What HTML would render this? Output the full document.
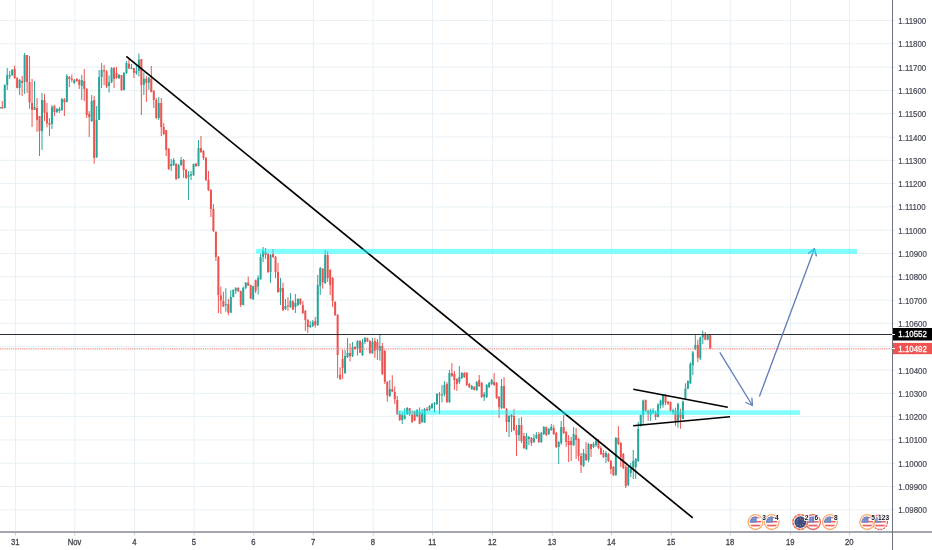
<!DOCTYPE html>
<html><head><meta charset="utf-8"><title>EURUSD chart</title>
<style>
html,body{margin:0;padding:0;background:#fff;}
body{width:932px;height:550px;overflow:hidden;}
svg{display:block;}
.ev{font-family:"Liberation Sans",sans-serif;font-size:6.6px;font-weight:bold;fill:#131722;stroke:#fff;stroke-width:1.6px;paint-order:stroke;}
</style></head>
<body>
<svg width="932" height="550" viewBox="0 0 932 550">
<rect width="932" height="550" fill="#fff"/>
<g stroke="#e8f0f5" stroke-width="1">
<line x1="0" y1="20.5" x2="892" y2="20.5"/>
<line x1="0" y1="43.8" x2="892" y2="43.8"/>
<line x1="0" y1="67.1" x2="892" y2="67.1"/>
<line x1="0" y1="90.4" x2="892" y2="90.4"/>
<line x1="0" y1="113.7" x2="892" y2="113.7"/>
<line x1="0" y1="137.0" x2="892" y2="137.0"/>
<line x1="0" y1="160.3" x2="892" y2="160.3"/>
<line x1="0" y1="183.6" x2="892" y2="183.6"/>
<line x1="0" y1="206.9" x2="892" y2="206.9"/>
<line x1="0" y1="230.2" x2="892" y2="230.2"/>
<line x1="0" y1="253.5" x2="892" y2="253.5"/>
<line x1="0" y1="276.8" x2="892" y2="276.8"/>
<line x1="0" y1="300.1" x2="892" y2="300.1"/>
<line x1="0" y1="323.4" x2="892" y2="323.4"/>
<line x1="0" y1="346.7" x2="892" y2="346.7"/>
<line x1="0" y1="370.0" x2="892" y2="370.0"/>
<line x1="0" y1="393.3" x2="892" y2="393.3"/>
<line x1="0" y1="416.6" x2="892" y2="416.6"/>
<line x1="0" y1="439.9" x2="892" y2="439.9"/>
<line x1="0" y1="463.2" x2="892" y2="463.2"/>
<line x1="0" y1="486.5" x2="892" y2="486.5"/>
<line x1="0" y1="509.8" x2="892" y2="509.8"/>
<line x1="15.5" y1="0" x2="15.5" y2="531"/>
<line x1="74.8" y1="0" x2="74.8" y2="531"/>
<line x1="134.5" y1="0" x2="134.5" y2="531"/>
<line x1="194.1" y1="0" x2="194.1" y2="531"/>
<line x1="253.7" y1="0" x2="253.7" y2="531"/>
<line x1="313.3" y1="0" x2="313.3" y2="531"/>
<line x1="373.2" y1="0" x2="373.2" y2="531"/>
<line x1="432.4" y1="0" x2="432.4" y2="531"/>
<line x1="492.4" y1="0" x2="492.4" y2="531"/>
<line x1="552.2" y1="0" x2="552.2" y2="531"/>
<line x1="611.5" y1="0" x2="611.5" y2="531"/>
<line x1="671.3" y1="0" x2="671.3" y2="531"/>
<line x1="730.3" y1="0" x2="730.3" y2="531"/>
<line x1="790.5" y1="0" x2="790.5" y2="531"/>
<line x1="849.5" y1="0" x2="849.5" y2="531"/>
</g>
<g>
<rect x="-0.73" y="106.60" width="1" height="2.40" fill="#26a69a"/>
<rect x="-1.23" y="107.00" width="2" height="1.40" fill="#26a69a"/>
<rect x="1.75" y="101.00" width="1" height="8.00" fill="#ef5350"/>
<rect x="1.25" y="107.00" width="2" height="1.40" fill="#ef5350"/>
<rect x="4.24" y="84.40" width="1" height="24.00" fill="#26a69a"/>
<rect x="3.74" y="85.00" width="2" height="23.00" fill="#26a69a"/>
<rect x="6.72" y="68.00" width="1" height="22.00" fill="#26a69a"/>
<rect x="6.22" y="75.00" width="2" height="10.00" fill="#26a69a"/>
<rect x="9.21" y="71.00" width="1" height="8.00" fill="#26a69a"/>
<rect x="8.71" y="75.00" width="2" height="1.40" fill="#26a69a"/>
<rect x="11.69" y="69.00" width="1" height="7.00" fill="#26a69a"/>
<rect x="11.19" y="70.00" width="2" height="5.00" fill="#26a69a"/>
<rect x="14.18" y="65.60" width="1" height="13.40" fill="#ef5350"/>
<rect x="13.68" y="69.00" width="2" height="9.00" fill="#ef5350"/>
<rect x="16.66" y="77.00" width="1" height="11.40" fill="#ef5350"/>
<rect x="16.16" y="78.00" width="2" height="10.00" fill="#ef5350"/>
<rect x="19.14" y="79.00" width="1" height="16.00" fill="#26a69a"/>
<rect x="18.64" y="80.00" width="2" height="8.00" fill="#26a69a"/>
<rect x="21.63" y="76.00" width="1" height="20.00" fill="#ef5350"/>
<rect x="21.13" y="81.00" width="2" height="2.00" fill="#ef5350"/>
<rect x="24.11" y="53.00" width="1" height="41.00" fill="#26a69a"/>
<rect x="23.61" y="55.00" width="2" height="27.00" fill="#26a69a"/>
<rect x="26.60" y="55.00" width="1" height="38.00" fill="#ef5350"/>
<rect x="26.10" y="55.00" width="2" height="27.00" fill="#ef5350"/>
<rect x="29.08" y="56.00" width="1" height="52.80" fill="#ef5350"/>
<rect x="28.58" y="82.00" width="2" height="20.60" fill="#ef5350"/>
<rect x="31.56" y="79.00" width="1" height="48.00" fill="#ef5350"/>
<rect x="31.06" y="103.00" width="2" height="7.00" fill="#ef5350"/>
<rect x="34.05" y="81.00" width="1" height="29.00" fill="#26a69a"/>
<rect x="33.55" y="107.00" width="2" height="3.00" fill="#26a69a"/>
<rect x="36.53" y="98.00" width="1" height="34.00" fill="#ef5350"/>
<rect x="36.03" y="108.00" width="2" height="12.00" fill="#ef5350"/>
<rect x="39.02" y="116.00" width="1" height="40.00" fill="#ef5350"/>
<rect x="38.52" y="116.00" width="2" height="15.00" fill="#ef5350"/>
<rect x="41.50" y="93.00" width="1" height="57.00" fill="#26a69a"/>
<rect x="41.00" y="100.00" width="2" height="31.00" fill="#26a69a"/>
<rect x="43.99" y="94.00" width="1" height="27.00" fill="#ef5350"/>
<rect x="43.49" y="100.00" width="2" height="12.80" fill="#ef5350"/>
<rect x="46.47" y="103.00" width="1" height="24.40" fill="#ef5350"/>
<rect x="45.97" y="112.40" width="2" height="11.00" fill="#ef5350"/>
<rect x="48.95" y="118.00" width="1" height="18.00" fill="#ef5350"/>
<rect x="48.45" y="123.00" width="2" height="1.80" fill="#ef5350"/>
<rect x="51.44" y="105.00" width="1" height="24.00" fill="#26a69a"/>
<rect x="50.94" y="107.00" width="2" height="17.00" fill="#26a69a"/>
<rect x="53.92" y="105.00" width="1" height="11.00" fill="#ef5350"/>
<rect x="53.42" y="106.00" width="2" height="6.00" fill="#ef5350"/>
<rect x="56.41" y="108.00" width="1" height="5.00" fill="#26a69a"/>
<rect x="55.91" y="109.00" width="2" height="3.00" fill="#26a69a"/>
<rect x="58.89" y="107.00" width="1" height="6.00" fill="#26a69a"/>
<rect x="58.39" y="109.00" width="2" height="2.00" fill="#26a69a"/>
<rect x="61.38" y="98.00" width="1" height="13.00" fill="#26a69a"/>
<rect x="60.88" y="99.00" width="2" height="11.00" fill="#26a69a"/>
<rect x="63.86" y="98.00" width="1" height="18.00" fill="#ef5350"/>
<rect x="63.36" y="99.40" width="2" height="2.80" fill="#ef5350"/>
<rect x="66.34" y="74.00" width="1" height="28.40" fill="#26a69a"/>
<rect x="65.84" y="76.00" width="2" height="26.00" fill="#26a69a"/>
<rect x="68.83" y="76.00" width="1" height="11.00" fill="#ef5350"/>
<rect x="68.33" y="77.00" width="2" height="2.00" fill="#ef5350"/>
<rect x="71.31" y="74.60" width="1" height="7.60" fill="#ef5350"/>
<rect x="70.81" y="78.60" width="2" height="1.20" fill="#ef5350"/>
<rect x="73.80" y="79.00" width="1" height="5.00" fill="#26a69a"/>
<rect x="73.30" y="80.00" width="2" height="3.00" fill="#26a69a"/>
<rect x="76.28" y="78.00" width="1" height="4.00" fill="#ef5350"/>
<rect x="75.78" y="79.00" width="2" height="2.00" fill="#ef5350"/>
<rect x="78.76" y="79.00" width="1" height="10.00" fill="#ef5350"/>
<rect x="78.26" y="80.00" width="2" height="5.00" fill="#ef5350"/>
<rect x="81.25" y="75.00" width="1" height="25.00" fill="#26a69a"/>
<rect x="80.75" y="80.00" width="2" height="6.00" fill="#26a69a"/>
<rect x="83.73" y="69.00" width="1" height="32.00" fill="#ef5350"/>
<rect x="83.23" y="81.00" width="2" height="8.00" fill="#ef5350"/>
<rect x="86.22" y="88.00" width="1" height="30.00" fill="#ef5350"/>
<rect x="85.72" y="89.00" width="2" height="26.00" fill="#ef5350"/>
<rect x="88.70" y="111.00" width="1" height="26.00" fill="#ef5350"/>
<rect x="88.20" y="114.00" width="2" height="3.00" fill="#ef5350"/>
<rect x="91.19" y="95.00" width="1" height="27.00" fill="#26a69a"/>
<rect x="90.69" y="101.00" width="2" height="20.00" fill="#26a69a"/>
<rect x="93.67" y="96.00" width="1" height="67.60" fill="#ef5350"/>
<rect x="93.17" y="100.00" width="2" height="58.00" fill="#ef5350"/>
<rect x="96.15" y="106.00" width="1" height="52.00" fill="#26a69a"/>
<rect x="95.65" y="120.00" width="2" height="37.00" fill="#26a69a"/>
<rect x="98.64" y="70.00" width="1" height="50.00" fill="#26a69a"/>
<rect x="98.14" y="77.00" width="2" height="43.00" fill="#26a69a"/>
<rect x="101.12" y="63.00" width="1" height="25.00" fill="#26a69a"/>
<rect x="100.62" y="70.00" width="2" height="7.00" fill="#26a69a"/>
<rect x="103.61" y="65.00" width="1" height="20.00" fill="#ef5350"/>
<rect x="103.11" y="70.20" width="2" height="1.20" fill="#ef5350"/>
<rect x="106.09" y="70.00" width="1" height="18.00" fill="#ef5350"/>
<rect x="105.59" y="71.40" width="2" height="15.20" fill="#ef5350"/>
<rect x="108.57" y="75.40" width="1" height="17.20" fill="#26a69a"/>
<rect x="108.07" y="82.20" width="2" height="3.60" fill="#26a69a"/>
<rect x="111.06" y="67.20" width="1" height="15.80" fill="#26a69a"/>
<rect x="110.56" y="68.20" width="2" height="14.00" fill="#26a69a"/>
<rect x="113.54" y="67.00" width="1" height="21.00" fill="#ef5350"/>
<rect x="113.04" y="68.00" width="2" height="11.00" fill="#ef5350"/>
<rect x="116.03" y="67.00" width="1" height="11.60" fill="#ef5350"/>
<rect x="115.53" y="73.00" width="2" height="5.20" fill="#ef5350"/>
<rect x="118.51" y="74.00" width="1" height="5.00" fill="#26a69a"/>
<rect x="118.01" y="75.00" width="2" height="3.00" fill="#26a69a"/>
<rect x="121.00" y="75.00" width="1" height="16.00" fill="#ef5350"/>
<rect x="120.50" y="75.00" width="2" height="15.00" fill="#ef5350"/>
<rect x="123.48" y="72.00" width="1" height="18.40" fill="#26a69a"/>
<rect x="122.98" y="73.00" width="2" height="17.00" fill="#26a69a"/>
<rect x="125.96" y="61.00" width="1" height="13.00" fill="#26a69a"/>
<rect x="125.46" y="63.00" width="2" height="10.00" fill="#26a69a"/>
<rect x="128.45" y="59.20" width="1" height="9.60" fill="#ef5350"/>
<rect x="127.95" y="63.60" width="2" height="4.80" fill="#ef5350"/>
<rect x="130.93" y="64.00" width="1" height="5.20" fill="#26a69a"/>
<rect x="130.43" y="68.00" width="2" height="1.00" fill="#26a69a"/>
<rect x="133.42" y="68.00" width="1" height="10.00" fill="#ef5350"/>
<rect x="132.92" y="68.00" width="2" height="4.80" fill="#ef5350"/>
<rect x="135.90" y="65.20" width="1" height="9.60" fill="#26a69a"/>
<rect x="135.40" y="70.80" width="2" height="2.40" fill="#26a69a"/>
<rect x="138.39" y="53.60" width="1" height="22.80" fill="#26a69a"/>
<rect x="137.89" y="59.60" width="2" height="11.20" fill="#26a69a"/>
<rect x="140.87" y="59.00" width="1" height="56.00" fill="#ef5350"/>
<rect x="140.37" y="59.00" width="2" height="26.00" fill="#ef5350"/>
<rect x="143.35" y="72.40" width="1" height="22.60" fill="#26a69a"/>
<rect x="142.85" y="78.80" width="2" height="6.00" fill="#26a69a"/>
<rect x="145.84" y="76.00" width="1" height="26.00" fill="#ef5350"/>
<rect x="145.34" y="78.80" width="2" height="4.00" fill="#ef5350"/>
<rect x="148.32" y="77.20" width="1" height="12.80" fill="#26a69a"/>
<rect x="147.82" y="77.60" width="2" height="5.20" fill="#26a69a"/>
<rect x="150.81" y="66.00" width="1" height="26.40" fill="#ef5350"/>
<rect x="150.31" y="79.00" width="2" height="13.00" fill="#ef5350"/>
<rect x="153.29" y="90.00" width="1" height="18.00" fill="#ef5350"/>
<rect x="152.79" y="91.00" width="2" height="9.00" fill="#ef5350"/>
<rect x="155.77" y="98.00" width="1" height="21.00" fill="#ef5350"/>
<rect x="155.27" y="100.00" width="2" height="18.00" fill="#ef5350"/>
<rect x="158.26" y="97.00" width="1" height="23.00" fill="#26a69a"/>
<rect x="157.76" y="103.00" width="2" height="15.00" fill="#26a69a"/>
<rect x="160.74" y="98.00" width="1" height="38.00" fill="#ef5350"/>
<rect x="160.24" y="103.00" width="2" height="24.00" fill="#ef5350"/>
<rect x="163.23" y="123.00" width="1" height="12.00" fill="#ef5350"/>
<rect x="162.73" y="127.00" width="2" height="7.00" fill="#ef5350"/>
<rect x="165.71" y="130.00" width="1" height="26.00" fill="#ef5350"/>
<rect x="165.21" y="130.00" width="2" height="20.00" fill="#ef5350"/>
<rect x="168.20" y="148.00" width="1" height="22.00" fill="#ef5350"/>
<rect x="167.70" y="149.00" width="2" height="20.00" fill="#ef5350"/>
<rect x="170.68" y="159.00" width="1" height="12.00" fill="#26a69a"/>
<rect x="170.18" y="164.00" width="2" height="2.00" fill="#26a69a"/>
<rect x="173.16" y="158.00" width="1" height="8.00" fill="#26a69a"/>
<rect x="172.66" y="160.00" width="2" height="5.00" fill="#26a69a"/>
<rect x="175.65" y="163.00" width="1" height="17.00" fill="#ef5350"/>
<rect x="175.15" y="164.00" width="2" height="15.00" fill="#ef5350"/>
<rect x="178.13" y="164.00" width="1" height="15.00" fill="#26a69a"/>
<rect x="177.63" y="165.00" width="2" height="13.00" fill="#26a69a"/>
<rect x="180.62" y="157.00" width="1" height="9.00" fill="#26a69a"/>
<rect x="180.12" y="160.00" width="2" height="5.00" fill="#26a69a"/>
<rect x="183.10" y="159.00" width="1" height="19.00" fill="#ef5350"/>
<rect x="182.60" y="160.00" width="2" height="10.00" fill="#ef5350"/>
<rect x="185.59" y="169.00" width="1" height="10.00" fill="#ef5350"/>
<rect x="185.09" y="170.00" width="2" height="8.00" fill="#ef5350"/>
<rect x="188.07" y="171.00" width="1" height="29.00" fill="#26a69a"/>
<rect x="187.57" y="175.00" width="2" height="2.00" fill="#26a69a"/>
<rect x="190.55" y="171.00" width="1" height="9.00" fill="#26a69a"/>
<rect x="190.05" y="174.00" width="2" height="1.60" fill="#26a69a"/>
<rect x="193.04" y="163.60" width="1" height="12.40" fill="#26a69a"/>
<rect x="192.54" y="164.00" width="2" height="11.00" fill="#26a69a"/>
<rect x="195.52" y="163.00" width="1" height="4.00" fill="#ef5350"/>
<rect x="195.02" y="163.60" width="2" height="2.40" fill="#ef5350"/>
<rect x="198.01" y="140.00" width="1" height="26.40" fill="#26a69a"/>
<rect x="197.51" y="148.00" width="2" height="18.00" fill="#26a69a"/>
<rect x="200.49" y="136.00" width="1" height="17.00" fill="#ef5350"/>
<rect x="199.99" y="148.00" width="2" height="4.00" fill="#ef5350"/>
<rect x="202.97" y="150.00" width="1" height="10.00" fill="#ef5350"/>
<rect x="202.47" y="151.00" width="2" height="7.00" fill="#ef5350"/>
<rect x="205.46" y="157.00" width="1" height="24.00" fill="#ef5350"/>
<rect x="204.96" y="158.00" width="2" height="22.00" fill="#ef5350"/>
<rect x="207.94" y="171.00" width="1" height="20.00" fill="#ef5350"/>
<rect x="207.44" y="180.00" width="2" height="10.00" fill="#ef5350"/>
<rect x="210.43" y="189.00" width="1" height="28.00" fill="#ef5350"/>
<rect x="209.93" y="190.00" width="2" height="19.00" fill="#ef5350"/>
<rect x="212.91" y="204.00" width="1" height="28.00" fill="#ef5350"/>
<rect x="212.41" y="209.00" width="2" height="22.00" fill="#ef5350"/>
<rect x="215.40" y="231.00" width="1" height="30.00" fill="#ef5350"/>
<rect x="214.90" y="232.00" width="2" height="25.00" fill="#ef5350"/>
<rect x="217.88" y="256.00" width="1" height="57.00" fill="#ef5350"/>
<rect x="217.38" y="257.00" width="2" height="38.00" fill="#ef5350"/>
<rect x="220.36" y="286.60" width="1" height="27.20" fill="#ef5350"/>
<rect x="219.86" y="295.40" width="2" height="5.20" fill="#ef5350"/>
<rect x="222.85" y="291.80" width="1" height="15.20" fill="#ef5350"/>
<rect x="222.35" y="301.00" width="2" height="5.60" fill="#ef5350"/>
<rect x="225.33" y="288.20" width="1" height="23.60" fill="#26a69a"/>
<rect x="224.83" y="304.20" width="2" height="1.00" fill="#26a69a"/>
<rect x="227.82" y="299.00" width="1" height="16.00" fill="#ef5350"/>
<rect x="227.32" y="304.20" width="2" height="8.40" fill="#ef5350"/>
<rect x="230.30" y="290.20" width="1" height="22.80" fill="#26a69a"/>
<rect x="229.80" y="297.00" width="2" height="15.60" fill="#26a69a"/>
<rect x="232.78" y="289.40" width="1" height="8.00" fill="#26a69a"/>
<rect x="232.28" y="289.80" width="2" height="7.20" fill="#26a69a"/>
<rect x="235.27" y="287.40" width="1" height="6.40" fill="#26a69a"/>
<rect x="234.77" y="287.80" width="2" height="2.80" fill="#26a69a"/>
<rect x="237.75" y="287.40" width="1" height="4.40" fill="#ef5350"/>
<rect x="237.25" y="287.80" width="2" height="3.60" fill="#ef5350"/>
<rect x="240.24" y="290.60" width="1" height="16.40" fill="#ef5350"/>
<rect x="239.74" y="291.00" width="2" height="14.00" fill="#ef5350"/>
<rect x="242.72" y="286.60" width="1" height="18.80" fill="#26a69a"/>
<rect x="242.22" y="287.80" width="2" height="17.20" fill="#26a69a"/>
<rect x="245.21" y="282.20" width="1" height="7.20" fill="#26a69a"/>
<rect x="244.71" y="282.60" width="2" height="5.20" fill="#26a69a"/>
<rect x="247.69" y="276.60" width="1" height="9.40" fill="#ef5350"/>
<rect x="247.19" y="282.60" width="2" height="3.20" fill="#ef5350"/>
<rect x="250.17" y="284.60" width="1" height="14.40" fill="#ef5350"/>
<rect x="249.67" y="285.00" width="2" height="13.60" fill="#ef5350"/>
<rect x="252.66" y="285.80" width="1" height="14.00" fill="#26a69a"/>
<rect x="252.16" y="286.20" width="2" height="13.20" fill="#26a69a"/>
<rect x="255.14" y="279.60" width="1" height="13.40" fill="#ef5350"/>
<rect x="254.64" y="280.20" width="2" height="10.40" fill="#ef5350"/>
<rect x="257.63" y="275.40" width="1" height="19.20" fill="#26a69a"/>
<rect x="257.13" y="277.80" width="2" height="8.80" fill="#26a69a"/>
<rect x="260.11" y="254.00" width="1" height="26.00" fill="#26a69a"/>
<rect x="259.61" y="257.00" width="2" height="22.00" fill="#26a69a"/>
<rect x="262.60" y="247.00" width="1" height="15.00" fill="#26a69a"/>
<rect x="262.10" y="251.00" width="2" height="6.00" fill="#26a69a"/>
<rect x="265.08" y="248.00" width="1" height="11.00" fill="#ef5350"/>
<rect x="264.58" y="252.00" width="2" height="3.00" fill="#ef5350"/>
<rect x="267.56" y="253.00" width="1" height="20.00" fill="#ef5350"/>
<rect x="267.06" y="254.00" width="2" height="18.00" fill="#ef5350"/>
<rect x="270.05" y="254.00" width="1" height="29.00" fill="#26a69a"/>
<rect x="269.55" y="255.00" width="2" height="17.00" fill="#26a69a"/>
<rect x="272.53" y="249.00" width="1" height="9.00" fill="#ef5350"/>
<rect x="272.03" y="254.00" width="2" height="3.00" fill="#ef5350"/>
<rect x="275.02" y="256.00" width="1" height="22.00" fill="#ef5350"/>
<rect x="274.52" y="257.00" width="2" height="15.00" fill="#ef5350"/>
<rect x="277.50" y="263.00" width="1" height="30.00" fill="#ef5350"/>
<rect x="277.00" y="272.00" width="2" height="20.00" fill="#ef5350"/>
<rect x="279.98" y="278.00" width="1" height="27.00" fill="#26a69a"/>
<rect x="279.48" y="288.00" width="2" height="4.00" fill="#26a69a"/>
<rect x="282.47" y="282.60" width="1" height="28.40" fill="#ef5350"/>
<rect x="281.97" y="288.00" width="2" height="22.00" fill="#ef5350"/>
<rect x="284.95" y="299.00" width="1" height="11.00" fill="#26a69a"/>
<rect x="284.45" y="306.00" width="2" height="3.00" fill="#26a69a"/>
<rect x="287.44" y="297.20" width="1" height="13.60" fill="#ef5350"/>
<rect x="286.94" y="305.40" width="2" height="1.00" fill="#ef5350"/>
<rect x="289.92" y="293.00" width="1" height="15.00" fill="#26a69a"/>
<rect x="289.42" y="301.00" width="2" height="6.00" fill="#26a69a"/>
<rect x="292.41" y="300.20" width="1" height="9.80" fill="#ef5350"/>
<rect x="291.91" y="301.20" width="2" height="8.40" fill="#ef5350"/>
<rect x="294.89" y="294.00" width="1" height="19.00" fill="#26a69a"/>
<rect x="294.39" y="303.00" width="2" height="4.00" fill="#26a69a"/>
<rect x="297.37" y="298.00" width="1" height="8.00" fill="#26a69a"/>
<rect x="296.87" y="299.00" width="2" height="6.00" fill="#26a69a"/>
<rect x="299.86" y="298.00" width="1" height="7.00" fill="#ef5350"/>
<rect x="299.36" y="299.00" width="2" height="5.00" fill="#ef5350"/>
<rect x="302.34" y="301.00" width="1" height="12.60" fill="#ef5350"/>
<rect x="301.84" y="305.20" width="2" height="8.00" fill="#ef5350"/>
<rect x="304.83" y="310.00" width="1" height="21.00" fill="#ef5350"/>
<rect x="304.33" y="311.00" width="2" height="9.00" fill="#ef5350"/>
<rect x="307.31" y="319.00" width="1" height="14.00" fill="#ef5350"/>
<rect x="306.81" y="320.00" width="2" height="7.00" fill="#ef5350"/>
<rect x="309.79" y="321.00" width="1" height="7.00" fill="#26a69a"/>
<rect x="309.29" y="325.00" width="2" height="2.00" fill="#26a69a"/>
<rect x="312.28" y="320.00" width="1" height="7.00" fill="#26a69a"/>
<rect x="311.78" y="322.00" width="2" height="4.00" fill="#26a69a"/>
<rect x="314.76" y="317.00" width="1" height="10.60" fill="#ef5350"/>
<rect x="314.26" y="321.00" width="2" height="4.00" fill="#ef5350"/>
<rect x="317.25" y="275.00" width="1" height="51.00" fill="#26a69a"/>
<rect x="316.75" y="285.00" width="2" height="40.00" fill="#26a69a"/>
<rect x="319.73" y="267.00" width="1" height="28.00" fill="#26a69a"/>
<rect x="319.23" y="268.20" width="2" height="17.60" fill="#26a69a"/>
<rect x="322.22" y="268.00" width="1" height="20.60" fill="#ef5350"/>
<rect x="321.72" y="268.60" width="2" height="13.60" fill="#ef5350"/>
<rect x="324.70" y="250.00" width="1" height="34.00" fill="#26a69a"/>
<rect x="324.20" y="255.00" width="2" height="28.00" fill="#26a69a"/>
<rect x="327.18" y="251.00" width="1" height="31.00" fill="#ef5350"/>
<rect x="326.68" y="255.00" width="2" height="23.00" fill="#ef5350"/>
<rect x="329.67" y="269.00" width="1" height="26.00" fill="#ef5350"/>
<rect x="329.17" y="270.00" width="2" height="15.00" fill="#ef5350"/>
<rect x="332.15" y="277.00" width="1" height="30.00" fill="#ef5350"/>
<rect x="331.65" y="278.00" width="2" height="23.00" fill="#ef5350"/>
<rect x="334.64" y="301.00" width="1" height="15.00" fill="#ef5350"/>
<rect x="334.14" y="302.00" width="2" height="13.00" fill="#ef5350"/>
<rect x="337.12" y="314.00" width="1" height="64.00" fill="#ef5350"/>
<rect x="336.62" y="315.00" width="2" height="40.00" fill="#ef5350"/>
<rect x="339.61" y="367.40" width="1" height="12.00" fill="#ef5350"/>
<rect x="339.11" y="374.60" width="2" height="4.80" fill="#ef5350"/>
<rect x="342.09" y="350.00" width="1" height="29.00" fill="#ef5350"/>
<rect x="341.59" y="359.00" width="2" height="9.00" fill="#ef5350"/>
<rect x="344.57" y="350.00" width="1" height="24.00" fill="#26a69a"/>
<rect x="344.07" y="356.00" width="2" height="17.00" fill="#26a69a"/>
<rect x="347.06" y="338.00" width="1" height="20.00" fill="#26a69a"/>
<rect x="346.56" y="353.00" width="2" height="4.00" fill="#26a69a"/>
<rect x="349.54" y="343.40" width="1" height="18.00" fill="#ef5350"/>
<rect x="349.04" y="353.00" width="2" height="3.20" fill="#ef5350"/>
<rect x="352.03" y="342.00" width="1" height="15.00" fill="#26a69a"/>
<rect x="351.53" y="347.00" width="2" height="9.00" fill="#26a69a"/>
<rect x="354.51" y="346.00" width="1" height="4.00" fill="#ef5350"/>
<rect x="354.01" y="347.00" width="2" height="2.00" fill="#ef5350"/>
<rect x="356.99" y="340.20" width="1" height="15.20" fill="#26a69a"/>
<rect x="356.49" y="341.00" width="2" height="8.00" fill="#26a69a"/>
<rect x="359.48" y="340.00" width="1" height="13.00" fill="#ef5350"/>
<rect x="358.98" y="341.00" width="2" height="11.60" fill="#ef5350"/>
<rect x="361.96" y="339.00" width="1" height="17.00" fill="#26a69a"/>
<rect x="361.46" y="342.00" width="2" height="13.00" fill="#26a69a"/>
<rect x="364.45" y="337.00" width="1" height="7.00" fill="#26a69a"/>
<rect x="363.95" y="338.00" width="2" height="4.00" fill="#26a69a"/>
<rect x="366.93" y="337.60" width="1" height="4.40" fill="#ef5350"/>
<rect x="366.43" y="338.20" width="2" height="3.20" fill="#ef5350"/>
<rect x="369.42" y="340.00" width="1" height="14.00" fill="#ef5350"/>
<rect x="368.92" y="341.00" width="2" height="12.00" fill="#ef5350"/>
<rect x="371.90" y="338.00" width="1" height="16.00" fill="#26a69a"/>
<rect x="371.40" y="342.00" width="2" height="11.00" fill="#26a69a"/>
<rect x="374.38" y="337.80" width="1" height="20.00" fill="#ef5350"/>
<rect x="373.88" y="341.00" width="2" height="9.60" fill="#ef5350"/>
<rect x="376.87" y="339.00" width="1" height="21.00" fill="#ef5350"/>
<rect x="376.37" y="342.00" width="2" height="8.00" fill="#ef5350"/>
<rect x="379.35" y="334.60" width="1" height="26.00" fill="#26a69a"/>
<rect x="378.85" y="346.20" width="2" height="4.40" fill="#26a69a"/>
<rect x="381.84" y="343.00" width="1" height="32.00" fill="#ef5350"/>
<rect x="381.34" y="346.00" width="2" height="28.00" fill="#ef5350"/>
<rect x="384.32" y="350.00" width="1" height="34.00" fill="#ef5350"/>
<rect x="383.82" y="351.00" width="2" height="31.00" fill="#ef5350"/>
<rect x="386.81" y="381.00" width="1" height="20.60" fill="#ef5350"/>
<rect x="386.31" y="382.00" width="2" height="13.60" fill="#ef5350"/>
<rect x="389.29" y="380.00" width="1" height="17.00" fill="#26a69a"/>
<rect x="388.79" y="389.00" width="2" height="7.00" fill="#26a69a"/>
<rect x="391.77" y="375.20" width="1" height="16.80" fill="#ef5350"/>
<rect x="391.27" y="389.20" width="2" height="2.40" fill="#ef5350"/>
<rect x="394.26" y="386.40" width="1" height="17.60" fill="#ef5350"/>
<rect x="393.76" y="392.00" width="2" height="7.20" fill="#ef5350"/>
<rect x="396.74" y="396.00" width="1" height="19.00" fill="#ef5350"/>
<rect x="396.24" y="400.00" width="2" height="14.00" fill="#ef5350"/>
<rect x="399.23" y="411.00" width="1" height="10.00" fill="#ef5350"/>
<rect x="398.73" y="414.00" width="2" height="6.00" fill="#ef5350"/>
<rect x="401.71" y="412.00" width="1" height="12.00" fill="#26a69a"/>
<rect x="401.21" y="415.00" width="2" height="5.00" fill="#26a69a"/>
<rect x="404.19" y="408.20" width="1" height="11.20" fill="#26a69a"/>
<rect x="403.69" y="415.40" width="2" height="3.60" fill="#26a69a"/>
<rect x="406.68" y="407.00" width="1" height="8.00" fill="#26a69a"/>
<rect x="406.18" y="408.00" width="2" height="6.00" fill="#26a69a"/>
<rect x="409.16" y="408.20" width="1" height="7.80" fill="#ef5350"/>
<rect x="408.66" y="408.20" width="2" height="6.00" fill="#ef5350"/>
<rect x="411.65" y="410.60" width="1" height="12.00" fill="#ef5350"/>
<rect x="411.15" y="415.00" width="2" height="7.20" fill="#ef5350"/>
<rect x="414.13" y="411.00" width="1" height="10.00" fill="#ef5350"/>
<rect x="413.63" y="411.40" width="2" height="9.20" fill="#ef5350"/>
<rect x="416.62" y="409.20" width="1" height="8.00" fill="#26a69a"/>
<rect x="416.12" y="409.80" width="2" height="6.40" fill="#26a69a"/>
<rect x="419.10" y="407.40" width="1" height="16.80" fill="#ef5350"/>
<rect x="418.60" y="412.20" width="2" height="11.60" fill="#ef5350"/>
<rect x="421.58" y="409.00" width="1" height="14.00" fill="#26a69a"/>
<rect x="421.08" y="413.00" width="2" height="9.00" fill="#26a69a"/>
<rect x="424.07" y="408.00" width="1" height="15.00" fill="#26a69a"/>
<rect x="423.57" y="409.00" width="2" height="13.60" fill="#26a69a"/>
<rect x="426.55" y="407.00" width="1" height="4.00" fill="#ef5350"/>
<rect x="426.05" y="409.00" width="2" height="1.60" fill="#ef5350"/>
<rect x="429.04" y="405.00" width="1" height="6.00" fill="#26a69a"/>
<rect x="428.54" y="406.00" width="2" height="4.00" fill="#26a69a"/>
<rect x="431.52" y="403.00" width="1" height="6.00" fill="#26a69a"/>
<rect x="431.02" y="404.00" width="2" height="4.00" fill="#26a69a"/>
<rect x="434.00" y="402.00" width="1" height="10.20" fill="#26a69a"/>
<rect x="433.50" y="403.00" width="2" height="1.00" fill="#26a69a"/>
<rect x="436.49" y="393.00" width="1" height="12.00" fill="#26a69a"/>
<rect x="435.99" y="394.00" width="2" height="10.00" fill="#26a69a"/>
<rect x="438.97" y="392.00" width="1" height="22.00" fill="#ef5350"/>
<rect x="438.47" y="394.00" width="2" height="1.20" fill="#ef5350"/>
<rect x="441.46" y="385.20" width="1" height="17.20" fill="#26a69a"/>
<rect x="440.96" y="394.40" width="2" height="1.00" fill="#26a69a"/>
<rect x="443.94" y="381.20" width="1" height="15.20" fill="#26a69a"/>
<rect x="443.44" y="384.80" width="2" height="9.60" fill="#26a69a"/>
<rect x="446.43" y="382.00" width="1" height="21.00" fill="#ef5350"/>
<rect x="445.93" y="384.00" width="2" height="18.00" fill="#ef5350"/>
<rect x="448.91" y="370.00" width="1" height="33.00" fill="#26a69a"/>
<rect x="448.41" y="373.00" width="2" height="29.00" fill="#26a69a"/>
<rect x="451.39" y="363.00" width="1" height="14.00" fill="#ef5350"/>
<rect x="450.89" y="373.00" width="2" height="3.00" fill="#ef5350"/>
<rect x="453.88" y="371.00" width="1" height="19.00" fill="#ef5350"/>
<rect x="453.38" y="374.00" width="2" height="6.00" fill="#ef5350"/>
<rect x="456.36" y="378.00" width="1" height="13.00" fill="#ef5350"/>
<rect x="455.86" y="379.00" width="2" height="5.00" fill="#ef5350"/>
<rect x="458.85" y="366.00" width="1" height="18.00" fill="#26a69a"/>
<rect x="458.35" y="377.00" width="2" height="5.00" fill="#26a69a"/>
<rect x="461.33" y="372.00" width="1" height="7.00" fill="#26a69a"/>
<rect x="460.83" y="373.00" width="2" height="5.00" fill="#26a69a"/>
<rect x="463.82" y="372.00" width="1" height="6.00" fill="#ef5350"/>
<rect x="463.32" y="373.00" width="2" height="4.00" fill="#ef5350"/>
<rect x="466.30" y="372.00" width="1" height="14.00" fill="#ef5350"/>
<rect x="465.80" y="373.00" width="2" height="12.00" fill="#ef5350"/>
<rect x="468.78" y="383.00" width="1" height="5.00" fill="#ef5350"/>
<rect x="468.28" y="384.00" width="2" height="3.00" fill="#ef5350"/>
<rect x="471.27" y="385.00" width="1" height="5.00" fill="#26a69a"/>
<rect x="470.77" y="386.00" width="2" height="3.00" fill="#26a69a"/>
<rect x="473.75" y="386.00" width="1" height="4.40" fill="#ef5350"/>
<rect x="473.25" y="387.00" width="2" height="3.00" fill="#ef5350"/>
<rect x="476.24" y="381.00" width="1" height="10.00" fill="#26a69a"/>
<rect x="475.74" y="382.00" width="2" height="8.00" fill="#26a69a"/>
<rect x="478.72" y="375.00" width="1" height="12.00" fill="#ef5350"/>
<rect x="478.22" y="380.00" width="2" height="6.00" fill="#ef5350"/>
<rect x="481.20" y="382.00" width="1" height="16.00" fill="#ef5350"/>
<rect x="480.70" y="383.00" width="2" height="14.00" fill="#ef5350"/>
<rect x="483.69" y="392.00" width="1" height="9.00" fill="#26a69a"/>
<rect x="483.19" y="394.00" width="2" height="3.00" fill="#26a69a"/>
<rect x="486.17" y="384.00" width="1" height="14.00" fill="#26a69a"/>
<rect x="485.67" y="385.00" width="2" height="12.00" fill="#26a69a"/>
<rect x="488.66" y="382.00" width="1" height="6.00" fill="#26a69a"/>
<rect x="488.16" y="383.00" width="2" height="4.00" fill="#26a69a"/>
<rect x="491.14" y="379.00" width="1" height="6.00" fill="#26a69a"/>
<rect x="490.64" y="380.00" width="2" height="4.00" fill="#26a69a"/>
<rect x="493.63" y="373.00" width="1" height="13.00" fill="#ef5350"/>
<rect x="493.13" y="382.00" width="2" height="3.00" fill="#ef5350"/>
<rect x="496.11" y="382.00" width="1" height="17.00" fill="#ef5350"/>
<rect x="495.61" y="383.00" width="2" height="15.00" fill="#ef5350"/>
<rect x="498.59" y="396.00" width="1" height="22.00" fill="#ef5350"/>
<rect x="498.09" y="397.00" width="2" height="10.00" fill="#ef5350"/>
<rect x="501.08" y="379.00" width="1" height="30.00" fill="#26a69a"/>
<rect x="500.58" y="386.00" width="2" height="22.00" fill="#26a69a"/>
<rect x="503.56" y="377.20" width="1" height="31.80" fill="#ef5350"/>
<rect x="503.06" y="386.00" width="2" height="22.00" fill="#ef5350"/>
<rect x="506.05" y="408.00" width="1" height="24.00" fill="#ef5350"/>
<rect x="505.55" y="409.00" width="2" height="13.00" fill="#ef5350"/>
<rect x="508.53" y="415.00" width="1" height="22.00" fill="#26a69a"/>
<rect x="508.03" y="416.00" width="2" height="6.00" fill="#26a69a"/>
<rect x="511.02" y="414.00" width="1" height="18.00" fill="#26a69a"/>
<rect x="510.52" y="415.00" width="2" height="2.00" fill="#26a69a"/>
<rect x="513.50" y="409.00" width="1" height="22.00" fill="#ef5350"/>
<rect x="513.00" y="416.00" width="2" height="14.00" fill="#ef5350"/>
<rect x="515.98" y="425.00" width="1" height="31.00" fill="#ef5350"/>
<rect x="515.48" y="430.00" width="2" height="5.00" fill="#ef5350"/>
<rect x="518.47" y="418.00" width="1" height="23.00" fill="#26a69a"/>
<rect x="517.97" y="425.00" width="2" height="10.00" fill="#26a69a"/>
<rect x="520.95" y="417.00" width="1" height="26.00" fill="#ef5350"/>
<rect x="520.45" y="425.00" width="2" height="16.00" fill="#ef5350"/>
<rect x="523.44" y="433.00" width="1" height="16.00" fill="#ef5350"/>
<rect x="522.94" y="436.00" width="2" height="12.00" fill="#ef5350"/>
<rect x="525.92" y="433.00" width="1" height="17.00" fill="#26a69a"/>
<rect x="525.42" y="436.00" width="2" height="13.00" fill="#26a69a"/>
<rect x="528.40" y="436.00" width="1" height="9.00" fill="#26a69a"/>
<rect x="527.90" y="437.00" width="2" height="2.00" fill="#26a69a"/>
<rect x="530.89" y="437.00" width="1" height="9.00" fill="#ef5350"/>
<rect x="530.39" y="438.00" width="2" height="5.00" fill="#ef5350"/>
<rect x="533.37" y="434.00" width="1" height="9.00" fill="#26a69a"/>
<rect x="532.87" y="438.00" width="2" height="4.00" fill="#26a69a"/>
<rect x="535.86" y="432.00" width="1" height="7.00" fill="#26a69a"/>
<rect x="535.36" y="435.00" width="2" height="3.00" fill="#26a69a"/>
<rect x="538.34" y="432.00" width="1" height="11.00" fill="#ef5350"/>
<rect x="537.84" y="434.00" width="2" height="8.00" fill="#ef5350"/>
<rect x="540.83" y="432.00" width="1" height="11.00" fill="#26a69a"/>
<rect x="540.33" y="433.00" width="2" height="9.00" fill="#26a69a"/>
<rect x="543.31" y="426.00" width="1" height="9.00" fill="#26a69a"/>
<rect x="542.81" y="427.00" width="2" height="7.00" fill="#26a69a"/>
<rect x="545.79" y="426.60" width="1" height="9.40" fill="#ef5350"/>
<rect x="545.29" y="427.00" width="2" height="8.00" fill="#ef5350"/>
<rect x="548.28" y="428.00" width="1" height="7.00" fill="#26a69a"/>
<rect x="547.78" y="429.00" width="2" height="5.00" fill="#26a69a"/>
<rect x="550.76" y="424.00" width="1" height="7.00" fill="#26a69a"/>
<rect x="550.26" y="427.00" width="2" height="3.00" fill="#26a69a"/>
<rect x="553.25" y="425.00" width="1" height="10.00" fill="#ef5350"/>
<rect x="552.75" y="428.00" width="2" height="6.00" fill="#ef5350"/>
<rect x="555.73" y="432.00" width="1" height="16.00" fill="#ef5350"/>
<rect x="555.23" y="433.00" width="2" height="14.00" fill="#ef5350"/>
<rect x="558.21" y="441.00" width="1" height="23.00" fill="#26a69a"/>
<rect x="557.71" y="442.00" width="2" height="5.00" fill="#26a69a"/>
<rect x="560.70" y="421.00" width="1" height="24.00" fill="#26a69a"/>
<rect x="560.20" y="427.00" width="2" height="16.00" fill="#26a69a"/>
<rect x="563.18" y="415.00" width="1" height="19.00" fill="#ef5350"/>
<rect x="562.68" y="427.00" width="2" height="6.00" fill="#ef5350"/>
<rect x="565.67" y="431.00" width="1" height="16.00" fill="#ef5350"/>
<rect x="565.17" y="432.00" width="2" height="10.00" fill="#ef5350"/>
<rect x="568.15" y="435.00" width="1" height="27.00" fill="#ef5350"/>
<rect x="567.65" y="441.00" width="2" height="4.00" fill="#ef5350"/>
<rect x="570.64" y="437.00" width="1" height="24.00" fill="#ef5350"/>
<rect x="570.14" y="441.00" width="2" height="4.00" fill="#ef5350"/>
<rect x="573.12" y="427.00" width="1" height="19.00" fill="#26a69a"/>
<rect x="572.62" y="434.00" width="2" height="11.00" fill="#26a69a"/>
<rect x="575.60" y="428.00" width="1" height="31.00" fill="#ef5350"/>
<rect x="575.10" y="435.00" width="2" height="5.00" fill="#ef5350"/>
<rect x="578.09" y="438.00" width="1" height="23.00" fill="#ef5350"/>
<rect x="577.59" y="439.00" width="2" height="17.00" fill="#ef5350"/>
<rect x="580.57" y="453.00" width="1" height="20.00" fill="#ef5350"/>
<rect x="580.07" y="456.00" width="2" height="9.00" fill="#ef5350"/>
<rect x="583.06" y="449.00" width="1" height="18.00" fill="#26a69a"/>
<rect x="582.56" y="453.00" width="2" height="13.00" fill="#26a69a"/>
<rect x="585.54" y="442.00" width="1" height="19.00" fill="#ef5350"/>
<rect x="585.04" y="454.00" width="2" height="6.00" fill="#ef5350"/>
<rect x="588.03" y="443.00" width="1" height="19.00" fill="#26a69a"/>
<rect x="587.53" y="444.00" width="2" height="16.00" fill="#26a69a"/>
<rect x="590.51" y="444.00" width="1" height="13.00" fill="#ef5350"/>
<rect x="590.01" y="444.00" width="2" height="5.00" fill="#ef5350"/>
<rect x="592.99" y="442.00" width="1" height="6.00" fill="#26a69a"/>
<rect x="592.49" y="444.00" width="2" height="3.00" fill="#26a69a"/>
<rect x="595.48" y="438.00" width="1" height="9.00" fill="#26a69a"/>
<rect x="594.98" y="441.00" width="2" height="4.00" fill="#26a69a"/>
<rect x="597.96" y="439.00" width="1" height="10.00" fill="#ef5350"/>
<rect x="597.46" y="441.00" width="2" height="7.00" fill="#ef5350"/>
<rect x="600.45" y="446.00" width="1" height="9.00" fill="#ef5350"/>
<rect x="599.95" y="448.00" width="2" height="6.00" fill="#ef5350"/>
<rect x="602.93" y="450.00" width="1" height="8.00" fill="#ef5350"/>
<rect x="602.43" y="453.00" width="2" height="4.00" fill="#ef5350"/>
<rect x="605.41" y="451.00" width="1" height="12.00" fill="#26a69a"/>
<rect x="604.91" y="453.00" width="2" height="4.00" fill="#26a69a"/>
<rect x="607.90" y="453.00" width="1" height="9.00" fill="#ef5350"/>
<rect x="607.40" y="454.00" width="2" height="7.00" fill="#ef5350"/>
<rect x="610.38" y="460.00" width="1" height="14.00" fill="#ef5350"/>
<rect x="609.88" y="461.00" width="2" height="8.00" fill="#ef5350"/>
<rect x="612.87" y="466.00" width="1" height="10.00" fill="#ef5350"/>
<rect x="612.37" y="467.00" width="2" height="8.00" fill="#ef5350"/>
<rect x="615.35" y="437.00" width="1" height="39.00" fill="#26a69a"/>
<rect x="614.85" y="438.00" width="2" height="37.00" fill="#26a69a"/>
<rect x="617.84" y="426.00" width="1" height="19.00" fill="#ef5350"/>
<rect x="617.34" y="438.00" width="2" height="6.00" fill="#ef5350"/>
<rect x="620.32" y="442.00" width="1" height="25.00" fill="#ef5350"/>
<rect x="619.82" y="443.00" width="2" height="14.00" fill="#ef5350"/>
<rect x="622.80" y="453.00" width="1" height="16.00" fill="#ef5350"/>
<rect x="622.30" y="454.00" width="2" height="14.00" fill="#ef5350"/>
<rect x="625.29" y="465.00" width="1" height="23.00" fill="#ef5350"/>
<rect x="624.79" y="467.00" width="2" height="19.00" fill="#ef5350"/>
<rect x="627.77" y="466.00" width="1" height="20.00" fill="#26a69a"/>
<rect x="627.27" y="467.00" width="2" height="18.00" fill="#26a69a"/>
<rect x="630.26" y="463.00" width="1" height="14.00" fill="#26a69a"/>
<rect x="629.76" y="469.00" width="2" height="4.00" fill="#26a69a"/>
<rect x="632.74" y="450.00" width="1" height="29.00" fill="#26a69a"/>
<rect x="632.24" y="461.00" width="2" height="8.00" fill="#26a69a"/>
<rect x="635.23" y="458.00" width="1" height="21.00" fill="#26a69a"/>
<rect x="634.73" y="459.00" width="2" height="8.00" fill="#26a69a"/>
<rect x="637.71" y="422.00" width="1" height="40.00" fill="#26a69a"/>
<rect x="637.21" y="429.00" width="2" height="32.00" fill="#26a69a"/>
<rect x="640.19" y="414.81" width="1" height="11.71" fill="#26a69a"/>
<rect x="639.69" y="414.81" width="2" height="11.20" fill="#26a69a"/>
<rect x="642.68" y="399.53" width="1" height="24.44" fill="#26a69a"/>
<rect x="642.18" y="400.55" width="2" height="14.26" fill="#26a69a"/>
<rect x="645.16" y="399.53" width="1" height="12.22" fill="#ef5350"/>
<rect x="644.66" y="400.04" width="2" height="10.69" fill="#ef5350"/>
<rect x="647.65" y="409.71" width="1" height="11.20" fill="#ef5350"/>
<rect x="647.15" y="410.73" width="2" height="3.05" fill="#ef5350"/>
<rect x="650.13" y="408.70" width="1" height="12.22" fill="#26a69a"/>
<rect x="649.63" y="410.73" width="2" height="4.07" fill="#26a69a"/>
<rect x="652.61" y="408.19" width="1" height="5.60" fill="#26a69a"/>
<rect x="652.11" y="410.73" width="2" height="2.04" fill="#26a69a"/>
<rect x="655.10" y="410.73" width="1" height="9.16" fill="#ef5350"/>
<rect x="654.60" y="412.77" width="2" height="4.07" fill="#ef5350"/>
<rect x="657.58" y="403.10" width="1" height="14.26" fill="#26a69a"/>
<rect x="657.08" y="404.62" width="2" height="12.22" fill="#26a69a"/>
<rect x="660.07" y="399.53" width="1" height="9.16" fill="#26a69a"/>
<rect x="659.57" y="400.55" width="2" height="5.09" fill="#26a69a"/>
<rect x="662.55" y="394.44" width="1" height="13.24" fill="#26a69a"/>
<rect x="662.05" y="394.95" width="2" height="9.67" fill="#26a69a"/>
<rect x="665.04" y="393.93" width="1" height="11.20" fill="#ef5350"/>
<rect x="664.54" y="394.95" width="2" height="7.64" fill="#ef5350"/>
<rect x="667.52" y="401.06" width="1" height="4.07" fill="#ef5350"/>
<rect x="667.02" y="401.57" width="2" height="2.04" fill="#ef5350"/>
<rect x="670.00" y="401.57" width="1" height="10.18" fill="#ef5350"/>
<rect x="669.50" y="402.08" width="2" height="8.66" fill="#ef5350"/>
<rect x="672.49" y="408.70" width="1" height="6.11" fill="#26a69a"/>
<rect x="671.99" y="410.22" width="2" height="2.04" fill="#26a69a"/>
<rect x="674.97" y="407.68" width="1" height="18.33" fill="#ef5350"/>
<rect x="674.47" y="410.73" width="2" height="10.18" fill="#ef5350"/>
<rect x="677.46" y="403.10" width="1" height="24.54" fill="#26a69a"/>
<rect x="676.96" y="403.60" width="2" height="17.31" fill="#26a69a"/>
<rect x="679.94" y="408.70" width="1" height="20.06" fill="#ef5350"/>
<rect x="679.44" y="411.75" width="2" height="6.11" fill="#ef5350"/>
<rect x="682.42" y="400.55" width="1" height="18.84" fill="#26a69a"/>
<rect x="681.92" y="401.57" width="2" height="17.31" fill="#26a69a"/>
<rect x="684.91" y="383.35" width="1" height="15.84" fill="#26a69a"/>
<rect x="684.41" y="388.63" width="2" height="9.80" fill="#26a69a"/>
<rect x="687.39" y="380.33" width="1" height="9.05" fill="#26a69a"/>
<rect x="686.89" y="381.09" width="2" height="7.54" fill="#26a69a"/>
<rect x="689.88" y="362.23" width="1" height="21.87" fill="#26a69a"/>
<rect x="689.38" y="363.74" width="2" height="19.61" fill="#26a69a"/>
<rect x="692.36" y="350.92" width="1" height="24.13" fill="#26a69a"/>
<rect x="691.86" y="352.43" width="2" height="12.82" fill="#26a69a"/>
<rect x="694.85" y="335.08" width="1" height="15.08" fill="#26a69a"/>
<rect x="694.35" y="344.89" width="2" height="4.52" fill="#26a69a"/>
<rect x="697.33" y="339.61" width="1" height="22.62" fill="#ef5350"/>
<rect x="696.83" y="344.89" width="2" height="12.82" fill="#ef5350"/>
<rect x="699.81" y="336.59" width="1" height="23.38" fill="#26a69a"/>
<rect x="699.31" y="337.35" width="2" height="21.12" fill="#26a69a"/>
<rect x="702.30" y="330.56" width="1" height="13.57" fill="#26a69a"/>
<rect x="701.80" y="334.33" width="2" height="3.02" fill="#26a69a"/>
<rect x="704.78" y="332.07" width="1" height="8.30" fill="#ef5350"/>
<rect x="704.28" y="334.33" width="2" height="5.28" fill="#ef5350"/>
<rect x="707.27" y="334.33" width="1" height="6.03" fill="#26a69a"/>
<rect x="706.77" y="335.08" width="2" height="4.52" fill="#26a69a"/>
<rect x="709.75" y="334.33" width="1" height="14.63" fill="#ef5350"/>
<rect x="709.25" y="335.08" width="2" height="13.57" fill="#ef5350"/>
</g>
<!-- price line -->
<line x1="0" y1="334.5" x2="892" y2="334.5" stroke="#2a2e39" stroke-width="1"/>
<line x1="0" y1="348.8" x2="892" y2="348.8" stroke="#f2807d" stroke-width="1.2" stroke-dasharray="0.9 0.93"/>
<!-- drawings -->
<line x1="126.3" y1="56.3" x2="692.8" y2="517.9" stroke="#000" stroke-width="1.7" stroke-linecap="butt"/>
<g stroke="#000" stroke-width="1.6" stroke-linecap="butt">
<line x1="633.2" y1="389.2" x2="727.8" y2="407.2"/>
<line x1="633.2" y1="425.8" x2="730" y2="416.8"/>
</g>
<g stroke="#6280bb" stroke-width="1.35" fill="none" stroke-linecap="round" stroke-linejoin="round">
<line x1="720.1" y1="352.8" x2="752.4" y2="405.5"/>
<polyline points="745.8,402.5 752.4,405.5 751.9,398.2"/>
<line x1="759.6" y1="396" x2="814.4" y2="248.8"/>
<polyline points="808.6,253.4 814.4,248.8 816.3,255.8"/>
</g>
<rect x="256" y="248.9" width="601" height="4.9" fill="#00ffff" fill-opacity="0.5"/>
<rect x="396.7" y="410.3" width="403.3" height="4.5" fill="#00ffff" fill-opacity="0.5"/>
<g>
<clipPath id="c1"><circle cx="755.5" cy="522.1" r="5.9"/></clipPath>
<g clip-path="url(#c1)">
<rect x="749.6" y="516.2" width="11.8" height="11.8" fill="#fff"/>
<rect x="749.6" y="516.8000000000001" width="11.8" height="1.5" fill="#f0605c"/>
<rect x="749.6" y="520.9" width="11.8" height="1.6" fill="#f0605c"/>
<rect x="749.6" y="524.7" width="11.8" height="1.7" fill="#f0605c"/>
<rect x="749.6" y="516.2" width="7.1000000000000005" height="6.5" fill="#7185c6"/>
<circle cx="751.9" cy="518.7" r="0.45" fill="#b9e3ea"/>
<circle cx="754.1" cy="518.7" r="0.45" fill="#b9e3ea"/>
<circle cx="751.9" cy="520.8000000000001" r="0.45" fill="#b9e3ea"/>
<circle cx="754.1" cy="520.8000000000001" r="0.45" fill="#b9e3ea"/>
</g>
<circle cx="755.5" cy="522.1" r="7.4" fill="none" stroke="#f9ad6c" stroke-width="1.3"/>
</g>
<g>
<clipPath id="c2"><circle cx="771.7" cy="522.1" r="5.9"/></clipPath>
<g clip-path="url(#c2)">
<rect x="765.8000000000001" y="516.2" width="11.8" height="11.8" fill="#fff"/>
<rect x="765.8000000000001" y="516.8000000000001" width="11.8" height="1.5" fill="#f0605c"/>
<rect x="765.8000000000001" y="520.9" width="11.8" height="1.6" fill="#f0605c"/>
<rect x="765.8000000000001" y="524.7" width="11.8" height="1.7" fill="#f0605c"/>
<rect x="765.8000000000001" y="516.2" width="7.1000000000000005" height="6.5" fill="#7185c6"/>
<circle cx="768.1" cy="518.7" r="0.45" fill="#b9e3ea"/>
<circle cx="770.3000000000001" cy="518.7" r="0.45" fill="#b9e3ea"/>
<circle cx="768.1" cy="520.8000000000001" r="0.45" fill="#b9e3ea"/>
<circle cx="770.3000000000001" cy="520.8000000000001" r="0.45" fill="#b9e3ea"/>
</g>
<circle cx="771.7" cy="522.1" r="7.4" fill="none" stroke="#f9ad6c" stroke-width="1.3"/>
</g>
<g>
<clipPath id="c4"><circle cx="813" cy="522.1" r="5.9"/></clipPath>
<g clip-path="url(#c4)">
<rect x="807.1" y="516.2" width="11.8" height="11.8" fill="#fff"/>
<rect x="807.1" y="516.8000000000001" width="11.8" height="1.5" fill="#f0605c"/>
<rect x="807.1" y="520.9" width="11.8" height="1.6" fill="#f0605c"/>
<rect x="807.1" y="524.7" width="11.8" height="1.7" fill="#f0605c"/>
<rect x="807.1" y="516.2" width="7.1000000000000005" height="6.5" fill="#7185c6"/>
<circle cx="809.4" cy="518.7" r="0.45" fill="#b9e3ea"/>
<circle cx="811.6" cy="518.7" r="0.45" fill="#b9e3ea"/>
<circle cx="809.4" cy="520.8000000000001" r="0.45" fill="#b9e3ea"/>
<circle cx="811.6" cy="520.8000000000001" r="0.45" fill="#b9e3ea"/>
</g>
<circle cx="813" cy="522.1" r="7.4" fill="none" stroke="#f0605c" stroke-width="1.3"/>
</g>
<g>
<circle cx="800.3" cy="522.1" r="5.9" fill="#3c4d86"/><circle cx="803.70" cy="522.10" r="0.5" fill="#d9a35a"/><circle cx="802.70" cy="524.50" r="0.5" fill="#d9a35a"/><circle cx="800.30" cy="525.50" r="0.5" fill="#d9a35a"/><circle cx="797.90" cy="524.50" r="0.5" fill="#d9a35a"/><circle cx="796.90" cy="522.10" r="0.5" fill="#d9a35a"/><circle cx="797.90" cy="519.70" r="0.5" fill="#d9a35a"/><circle cx="800.30" cy="518.70" r="0.5" fill="#d9a35a"/><circle cx="802.70" cy="519.70" r="0.5" fill="#d9a35a"/>
<circle cx="800.3" cy="522.1" r="7.4" fill="none" stroke="#f9b172" stroke-width="1.3"/>
<circle cx="800.3" cy="522.1" r="7.4" fill="none" stroke="#f0605c" stroke-width="1.3" stroke-dasharray="2.5 1.5"/>
</g>
<g>
<clipPath id="c5"><circle cx="829.9" cy="522.1" r="5.9"/></clipPath>
<g clip-path="url(#c5)">
<rect x="824.0" y="516.2" width="11.8" height="11.8" fill="#fff"/>
<rect x="824.0" y="516.8000000000001" width="11.8" height="1.5" fill="#f0605c"/>
<rect x="824.0" y="520.9" width="11.8" height="1.6" fill="#f0605c"/>
<rect x="824.0" y="524.7" width="11.8" height="1.7" fill="#f0605c"/>
<rect x="824.0" y="516.2" width="7.1000000000000005" height="6.5" fill="#7185c6"/>
<circle cx="826.3" cy="518.7" r="0.45" fill="#b9e3ea"/>
<circle cx="828.5" cy="518.7" r="0.45" fill="#b9e3ea"/>
<circle cx="826.3" cy="520.8000000000001" r="0.45" fill="#b9e3ea"/>
<circle cx="828.5" cy="520.8000000000001" r="0.45" fill="#b9e3ea"/>
</g>
<circle cx="829.9" cy="522.1" r="7.4" fill="none" stroke="#f9ad6c" stroke-width="1.3"/>
</g>
<g>
<clipPath id="c7"><circle cx="880" cy="522.1" r="5.9"/></clipPath>
<g clip-path="url(#c7)">
<rect x="874.1" y="516.2" width="11.8" height="11.8" fill="#fff"/>
<rect x="874.1" y="516.8000000000001" width="11.8" height="1.5" fill="#f0605c"/>
<rect x="874.1" y="520.9" width="11.8" height="1.6" fill="#f0605c"/>
<rect x="874.1" y="524.7" width="11.8" height="1.7" fill="#f0605c"/>
<rect x="874.1" y="516.2" width="7.1000000000000005" height="6.5" fill="#7185c6"/>
<circle cx="876.4" cy="518.7" r="0.45" fill="#b9e3ea"/>
<circle cx="878.6" cy="518.7" r="0.45" fill="#b9e3ea"/>
<circle cx="876.4" cy="520.8000000000001" r="0.45" fill="#b9e3ea"/>
<circle cx="878.6" cy="520.8000000000001" r="0.45" fill="#b9e3ea"/>
</g>
<circle cx="880" cy="522.1" r="7.4" fill="none" stroke="#f0605c" stroke-width="1.3" stroke-dasharray="2.2 0.8"/>
</g>
<g>
<clipPath id="c6"><circle cx="867.2" cy="522.1" r="5.9"/></clipPath>
<g clip-path="url(#c6)">
<rect x="861.3000000000001" y="516.2" width="11.8" height="11.8" fill="#fff"/>
<rect x="861.3000000000001" y="516.8000000000001" width="11.8" height="1.5" fill="#f0605c"/>
<rect x="861.3000000000001" y="520.9" width="11.8" height="1.6" fill="#f0605c"/>
<rect x="861.3000000000001" y="524.7" width="11.8" height="1.7" fill="#f0605c"/>
<rect x="861.3000000000001" y="516.2" width="7.1000000000000005" height="6.5" fill="#7185c6"/>
<circle cx="863.6" cy="518.7" r="0.45" fill="#b9e3ea"/>
<circle cx="865.8000000000001" cy="518.7" r="0.45" fill="#b9e3ea"/>
<circle cx="863.6" cy="520.8000000000001" r="0.45" fill="#b9e3ea"/>
<circle cx="865.8000000000001" cy="520.8000000000001" r="0.45" fill="#b9e3ea"/>
</g>
<circle cx="867.2" cy="522.1" r="7.4" fill="none" stroke="#f9ad6c" stroke-width="1.3"/>
</g>
<text x="762.2" y="519.9" class="ev">3</text>
<text x="775" y="519.9" class="ev">4</text>
<text x="804.7" y="519.9" class="ev">2</text>
<text x="814.5" y="519.9" class="ev">6</text>
<text x="834" y="519.9" class="ev">8</text>
<text x="871.2" y="519.9" class="ev">5</text>
<text x="878.1" y="519.9" class="ev">123</text>
<!-- axes -->
<rect x="892" y="0" width="40" height="550" fill="#fff"/>
<rect x="0" y="531" width="932" height="2" fill="#a3a6af"/>
<rect x="892" y="0" width="1" height="550" fill="#6f727c"/>
<g font-family="'Liberation Sans', sans-serif" font-size="8.5" fill="#464a56" stroke-width="0.2">
<line x1="892" y1="20.5" x2="895" y2="20.5" stroke="#6f727c"/>
<text transform="translate(898.3,23.7) scale(0.93,1)" stroke="#464a56">1.11900</text>
<line x1="892" y1="43.5" x2="895" y2="43.5" stroke="#6f727c"/>
<text transform="translate(898.3,46.7) scale(0.93,1)" stroke="#464a56">1.11800</text>
<line x1="892" y1="67.5" x2="895" y2="67.5" stroke="#6f727c"/>
<text transform="translate(898.3,70.7) scale(0.93,1)" stroke="#464a56">1.11700</text>
<line x1="892" y1="90.5" x2="895" y2="90.5" stroke="#6f727c"/>
<text transform="translate(898.3,93.7) scale(0.93,1)" stroke="#464a56">1.11600</text>
<line x1="892" y1="113.5" x2="895" y2="113.5" stroke="#6f727c"/>
<text transform="translate(898.3,116.7) scale(0.93,1)" stroke="#464a56">1.11500</text>
<line x1="892" y1="137.5" x2="895" y2="137.5" stroke="#6f727c"/>
<text transform="translate(898.3,140.7) scale(0.93,1)" stroke="#464a56">1.11400</text>
<line x1="892" y1="160.5" x2="895" y2="160.5" stroke="#6f727c"/>
<text transform="translate(898.3,163.7) scale(0.93,1)" stroke="#464a56">1.11300</text>
<line x1="892" y1="183.5" x2="895" y2="183.5" stroke="#6f727c"/>
<text transform="translate(898.3,186.7) scale(0.93,1)" stroke="#464a56">1.11200</text>
<line x1="892" y1="206.5" x2="895" y2="206.5" stroke="#6f727c"/>
<text transform="translate(898.3,209.7) scale(0.93,1)" stroke="#464a56">1.11100</text>
<line x1="892" y1="230.5" x2="895" y2="230.5" stroke="#6f727c"/>
<text transform="translate(898.3,233.7) scale(0.93,1)" stroke="#464a56">1.11000</text>
<line x1="892" y1="253.5" x2="895" y2="253.5" stroke="#6f727c"/>
<text transform="translate(898.3,256.7) scale(0.93,1)" stroke="#464a56">1.10900</text>
<line x1="892" y1="276.5" x2="895" y2="276.5" stroke="#6f727c"/>
<text transform="translate(898.3,279.7) scale(0.93,1)" stroke="#464a56">1.10800</text>
<line x1="892" y1="300.5" x2="895" y2="300.5" stroke="#6f727c"/>
<text transform="translate(898.3,303.7) scale(0.93,1)" stroke="#464a56">1.10700</text>
<line x1="892" y1="323.5" x2="895" y2="323.5" stroke="#6f727c"/>
<text transform="translate(898.3,326.7) scale(0.93,1)" stroke="#464a56">1.10600</text>
<line x1="892" y1="346.5" x2="895" y2="346.5" stroke="#6f727c"/>
<text transform="translate(898.3,349.7) scale(0.93,1)" stroke="#464a56">1.10500</text>
<line x1="892" y1="370.5" x2="895" y2="370.5" stroke="#6f727c"/>
<text transform="translate(898.3,373.7) scale(0.93,1)" stroke="#464a56">1.10400</text>
<line x1="892" y1="393.5" x2="895" y2="393.5" stroke="#6f727c"/>
<text transform="translate(898.3,396.7) scale(0.93,1)" stroke="#464a56">1.10300</text>
<line x1="892" y1="416.5" x2="895" y2="416.5" stroke="#6f727c"/>
<text transform="translate(898.3,419.7) scale(0.93,1)" stroke="#464a56">1.10200</text>
<line x1="892" y1="439.5" x2="895" y2="439.5" stroke="#6f727c"/>
<text transform="translate(898.3,442.7) scale(0.93,1)" stroke="#464a56">1.10100</text>
<line x1="892" y1="463.5" x2="895" y2="463.5" stroke="#6f727c"/>
<text transform="translate(898.3,466.7) scale(0.93,1)" stroke="#464a56">1.10000</text>
<line x1="892" y1="486.5" x2="895" y2="486.5" stroke="#6f727c"/>
<text transform="translate(898.3,489.7) scale(0.93,1)" stroke="#464a56">1.09900</text>
<line x1="892" y1="509.5" x2="895" y2="509.5" stroke="#6f727c"/>
<text transform="translate(898.3,512.7) scale(0.93,1)" stroke="#464a56">1.09800</text>
</g>
<g font-family="'Liberation Sans', sans-serif" font-size="8.5" fill="#40444f" stroke="#40444f" stroke-width="0.3">
<line x1="15.5" y1="533" x2="15.5" y2="535.5" stroke="#5d606b"/>
<text transform="translate(15.3,545) scale(0.9,1)" text-anchor="middle">31</text>
<line x1="74.8" y1="533" x2="74.8" y2="535.5" stroke="#5d606b"/>
<text transform="translate(74.6,545) scale(0.9,1)" text-anchor="middle">Nov</text>
<line x1="134.5" y1="533" x2="134.5" y2="535.5" stroke="#5d606b"/>
<text transform="translate(134.3,545) scale(0.9,1)" text-anchor="middle">4</text>
<line x1="194.1" y1="533" x2="194.1" y2="535.5" stroke="#5d606b"/>
<text transform="translate(193.9,545) scale(0.9,1)" text-anchor="middle">5</text>
<line x1="253.7" y1="533" x2="253.7" y2="535.5" stroke="#5d606b"/>
<text transform="translate(253.5,545) scale(0.9,1)" text-anchor="middle">6</text>
<line x1="313.3" y1="533" x2="313.3" y2="535.5" stroke="#5d606b"/>
<text transform="translate(313.1,545) scale(0.9,1)" text-anchor="middle">7</text>
<line x1="373.2" y1="533" x2="373.2" y2="535.5" stroke="#5d606b"/>
<text transform="translate(373.0,545) scale(0.9,1)" text-anchor="middle">8</text>
<line x1="432.4" y1="533" x2="432.4" y2="535.5" stroke="#5d606b"/>
<text transform="translate(432.2,545) scale(0.9,1)" text-anchor="middle">11</text>
<line x1="492.4" y1="533" x2="492.4" y2="535.5" stroke="#5d606b"/>
<text transform="translate(492.2,545) scale(0.9,1)" text-anchor="middle">12</text>
<line x1="552.2" y1="533" x2="552.2" y2="535.5" stroke="#5d606b"/>
<text transform="translate(552.0,545) scale(0.9,1)" text-anchor="middle">13</text>
<line x1="611.5" y1="533" x2="611.5" y2="535.5" stroke="#5d606b"/>
<text transform="translate(611.3,545) scale(0.9,1)" text-anchor="middle">14</text>
<line x1="671.3" y1="533" x2="671.3" y2="535.5" stroke="#5d606b"/>
<text transform="translate(671.0999999999999,545) scale(0.9,1)" text-anchor="middle">15</text>
<line x1="730.3" y1="533" x2="730.3" y2="535.5" stroke="#5d606b"/>
<text transform="translate(730.0999999999999,545) scale(0.9,1)" text-anchor="middle">18</text>
<line x1="790.5" y1="533" x2="790.5" y2="535.5" stroke="#5d606b"/>
<text transform="translate(790.3,545) scale(0.9,1)" text-anchor="middle">19</text>
<line x1="849.5" y1="533" x2="849.5" y2="535.5" stroke="#5d606b"/>
<text transform="translate(849.3,545) scale(0.9,1)" text-anchor="middle">20</text>
</g>
<rect x="893" y="328" width="39" height="12.5" fill="#000"/>
<line x1="892" y1="334.5" x2="895" y2="334.5" stroke="#fff"/>
<text transform="translate(898.3,337.3) scale(0.93,1)" font-family="'Liberation Sans', sans-serif" font-size="8.5" fill="#fff" stroke="#fff" stroke-width="0.3">1.10552</text>
<rect x="893" y="342.9" width="39" height="11.3" fill="#ef5350"/>
<line x1="892" y1="348.5" x2="895" y2="348.5" stroke="#fff"/>
<text transform="translate(898.3,351.6) scale(0.93,1)" font-family="'Liberation Sans', sans-serif" font-size="8.5" fill="#fff" stroke="#fff" stroke-width="0.3">1.10492</text>
</svg>
</body></html>
